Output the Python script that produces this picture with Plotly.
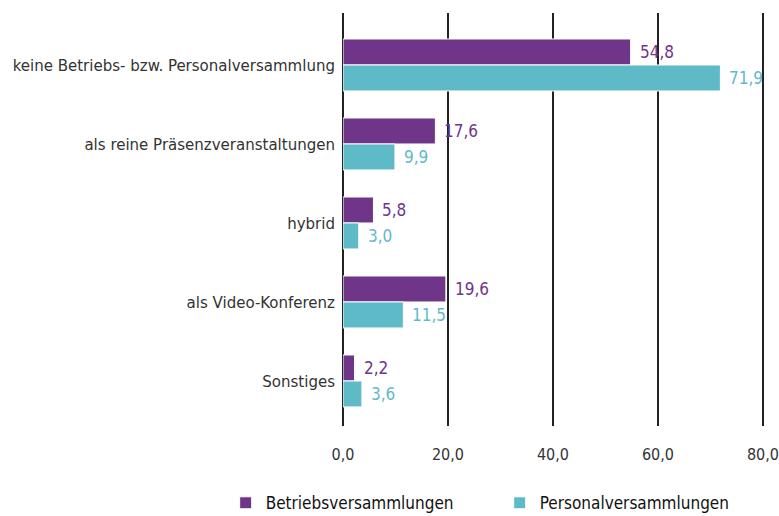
import plotly.graph_objects as go

categories = ["keine Betriebs- bzw. Personalversammlung", "als reine Präsenzveranstaltungen",
              "hybrid", "als Video-Konferenz", "Sonstiges"]
betrieb = [54.8, 17.6, 5.8, 19.6, 2.2]
personal = [71.9, 9.9, 3.0, 11.5, 3.6]
series_names = ["Betriebsversammlungen", "Personalversammlungen"]
x_ticks = [0, 20, 40, 60, 80]

PURPLE = "#6F3589"
TEAL = "#5FBAC8"
FONT = "DejaVu Sans Condensed, Liberation Sans Narrow, sans-serif"
TXT = "#333333"
FS = 17

fig = go.Figure()
for name, vals, col in [(series_names[0], betrieb, PURPLE), (series_names[1], personal, TEAL)]:
    fig.add_trace(go.Bar(
        y=list(range(len(categories))), x=vals, name=name, orientation="h",
        marker=dict(color=col, line=dict(color="white", width=1)),
        hoverinfo="x+name",
    ))

ann = []
ng = 0.658
for i in range(len(categories)):
    for k, (vals, col) in enumerate([(betrieb, PURPLE), (personal, TEAL)]):
        yoff = (-ng / 4) if k == 0 else (ng / 4)
        ann.append(dict(x=vals[i], y=i + yoff, xref="x", yref="y",
                        text=f"{vals[i]:.1f}".replace(".", ","),
                        showarrow=False, xanchor="left", yanchor="middle",
                        xshift=7, font=dict(family=FONT, size=FS, color=col)))

fig.update_layout(
    width=779, height=516,
    margin=dict(l=343, r=14, t=13, b=90, autoexpand=False),
    paper_bgcolor="white", plot_bgcolor="white",
    barmode="group", bargap=1 - ng, bargroupgap=0,
    separators=",.",
    font=dict(family=FONT, size=FS, color=TXT),
    annotations=ann,
    showlegend=True,
    legend=dict(orientation="h", x=-0.278, xanchor="left", y=-0.187, yanchor="middle",
                font=dict(family=FONT, size=FS, color="#111111"),
                entrywidth=229, entrywidthmode="pixels", traceorder="normal",
                itemwidth=30),
    xaxis=dict(range=[0, 80.4], tickvals=x_ticks, tickformat=".1f", automargin=False,
               showgrid=True, gridcolor="#222222", gridwidth=1.5,
               zeroline=True, zerolinecolor="#222222", zerolinewidth=1.5,
               showline=False, ticks="", ticklabelstandoff=17, ticklabeloverflow="allow",
               tickfont=dict(family=FONT, size=16, color=TXT), fixedrange=True),
    yaxis=dict(range=[4.57, -0.658], tickvals=list(range(len(categories))), automargin=False,
               ticktext=categories, showgrid=False, zeroline=False, showline=False,
               ticks="", ticklabelstandoff=7,
               tickfont=dict(family=FONT, size=16.7, color=TXT), fixedrange=True),
)

fig.write_html("out.html", config={"displayModeBar": False},
               post_script="document.body.style.margin='0';document.body.style.overflow='hidden';")
